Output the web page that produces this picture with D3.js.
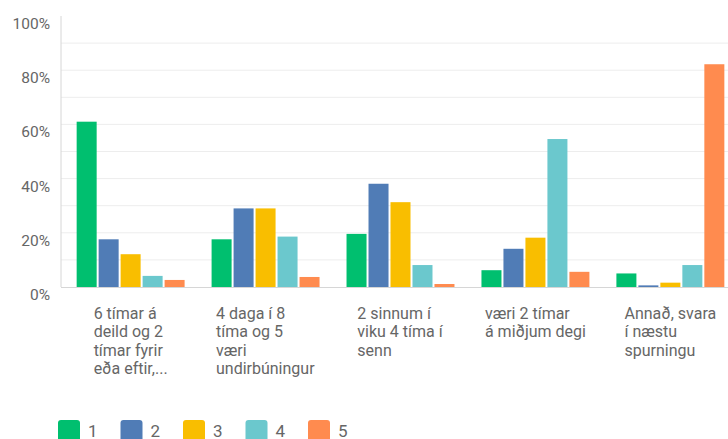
<!DOCTYPE html>
<html>
<head>
<meta charset="utf-8">
<script src="https://cdn.jsdelivr.net/npm/d3@7"></script>
<style>
  body { margin: 0; background: #fff; }
  text { font-family: Roboto, "Open Sans", sans-serif; fill: #666; }
</style>
</head>
<body>
<svg id="chart" width="728" height="439"></svg>
<script>
// answer options (x-axis label lines)
var categories = ["g1", "g2", "g3", "g4", "g5"];
var categoryLines = [
  ["6 tímar á", "deild og 2", "tímar fyrir", "eða eftir,..."],
  ["4 daga í 8", "tíma og 5", "væri", "undirbúningur"],
  ["2 sinnum í", "viku 4 tíma í", "senn"],
  ["væri 2 tímar", "á miðjum degi"],
  ["Annað, svara", "í næstu", "spurningu"]
];
var seriesNames = ["1", "2", "3", "4", "5"];
var colors = ["#00bf6f", "#507cb6", "#f9be00", "#6bc8cd", "#ff8b4f"];
// percentages per series, one value per category
var s1 = [61.0, 17.6, 19.6, 6.2, 5.0];
var s2 = [17.6, 29.0, 38.1, 14.1, 0.6];
var s3 = [12.1, 29.0, 31.3, 18.2, 1.6];
var s4 = [4.1, 18.6, 8.1, 54.6, 8.1];
var s5 = [2.6, 3.7, 1.1, 5.6, 82.2];
var series = [s1, s2, s3, s4, s5];
var yTicks = [0, 20, 40, 60, 80, 100];
var gridTicks = [10, 20, 30, 40, 50, 60, 70, 80, 90];

var svg = d3.select("#chart");

var y = d3.scaleLinear().domain([0, 100]).range([287, 16]);

var x0 = d3.scaleBand()
  .domain(categories)
  .range([61, 740])
  .paddingInner(0.2)
  .paddingOuter(0.116);

var x1 = d3.scaleBand()
  .domain(seriesNames)
  .range([0, x0.bandwidth()])
  .paddingInner(0.09);

// gridlines
svg.append("g").selectAll("line")
  .data(gridTicks)
  .enter().append("line")
    .attr("x1", 61)
    .attr("x2", 728)
    .attr("y1", function(d) { return y(d); })
    .attr("y2", function(d) { return y(d); })
    .style("stroke", "#ededed")
    .style("stroke-width", 1);

// y labels
svg.append("g").selectAll("text")
  .data(yTicks)
  .enter().append("text")
    .attr("x", 50)
    .attr("y", function(d) { return y(d) + 13; })
    .style("text-anchor", "end")
    .style("font-size", "15.5px")
    .text(function(d) { return d + "%"; });

// bars
var groups = svg.append("g").selectAll("g")
  .data(categories)
  .enter().append("g")
    .attr("transform", function(d) { return "translate(" + x0(d) + ",0)"; });

groups.selectAll("rect")
  .data(function(d, i) {
    return series.map(function(s, j) { return { key: seriesNames[j], value: s[i], color: colors[j] }; });
  })
  .enter().append("rect")
    .attr("x", function(d) { return x1(d.key); })
    .attr("y", function(d) { return y(d.value); })
    .attr("width", x1.bandwidth())
    .attr("height", function(d) { return y(0) - y(d.value); })
    .style("fill", function(d) { return d.color; });

// axis lines
svg.append("line")
  .attr("x1", 61).attr("x2", 61)
  .attr("y1", y(100)).attr("y2", y(0))
  .style("stroke", "#d6d6d6");
svg.append("line")
  .attr("x1", 61).attr("x2", 728)
  .attr("y1", y(0) + 0.5).attr("y2", y(0) + 0.5)
  .style("stroke", "#d6d6d6");

// x labels, block centered on the group, lines left aligned
categories.forEach(function(c, i) {
  var t = svg.append("text")
    .style("font-size", "16px");
  categoryLines[i].forEach(function(line, k) {
    t.append("tspan")
      .attr("x", 0)
      .attr("y", 319 + k * 18.3)
      .text(line);
  });
  var w = t.node().getBBox().width;
  var cx = x0(c) + x0.bandwidth() / 2;
  t.attr("transform", "translate(" + (cx - w / 2) + ",0)");
});

// legend
var legend = svg.append("g").selectAll("g")
  .data(seriesNames)
  .enter().append("g")
    .attr("transform", function(d, i) { return "translate(" + (58 + i * 62.5) + ",420)"; });

legend.append("rect")
  .attr("width", 22)
  .attr("height", 22)
  .attr("rx", 3)
  .style("fill", function(d, i) { return colors[i]; });

legend.append("text")
  .attr("x", 30)
  .attr("y", 17)
  .style("font-size", "17px")
  .text(function(d) { return d; });
</script>
</body>
</html>
